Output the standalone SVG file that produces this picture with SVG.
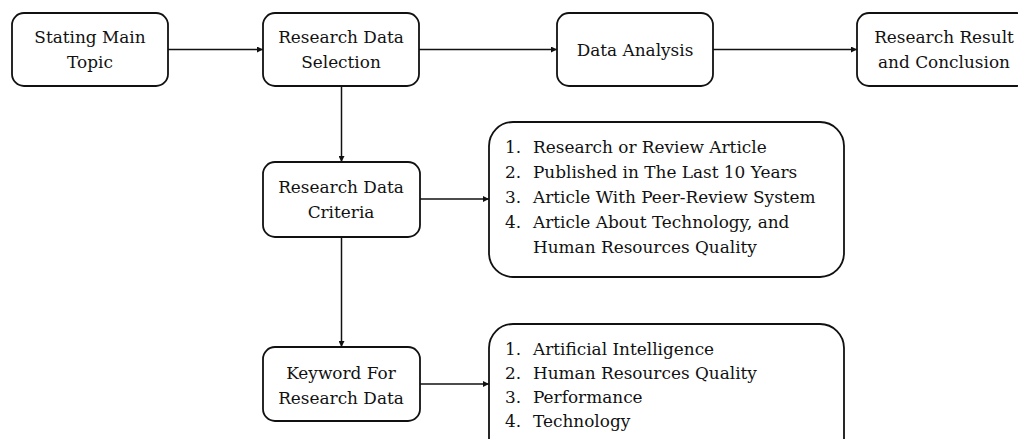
<svg xmlns="http://www.w3.org/2000/svg" width="1018" height="439" viewBox="0 0 1018 439">
<style>
.box{fill:#fff;stroke:#111;stroke-width:1.8}
.t{font-family:"DejaVu Serif","Liberation Serif",serif;font-size:16.9px;fill:#111}
.c{text-anchor:middle}
.ln{fill:none;stroke:#111;stroke-width:1.5}
</style>
<defs>
<marker id="ah" viewBox="0 0 10 10" refX="10" refY="5" markerWidth="6" markerHeight="6" markerUnits="userSpaceOnUse" orient="auto">
<path d="M0,0 L10,5 L0,10 z" fill="#111"/>
</marker>
</defs>
<rect width="1018" height="439" fill="#fff"/>
<g id="connectors">
<line class="ln" x1="168" y1="49.5" x2="263" y2="49.5" marker-end="url(#ah)"/>
<line class="ln" x1="419" y1="49.5" x2="557" y2="49.5" marker-end="url(#ah)"/>
<line class="ln" x1="713" y1="49.5" x2="857" y2="49.5" marker-end="url(#ah)"/>
<line class="ln" x1="341.5" y1="86" x2="341.5" y2="162" marker-end="url(#ah)"/>
<line class="ln" x1="341.5" y1="237" x2="341.5" y2="347" marker-end="url(#ah)"/>
<line class="ln" x1="420" y1="199" x2="489" y2="199" marker-end="url(#ah)"/>
<line class="ln" x1="420" y1="384" x2="489" y2="384" marker-end="url(#ah)"/>
</g>
<g id="stating">
<rect class="box" x="12" y="13" width="156" height="73" rx="12"/>
<text class="t c" x="90" y="43">Stating Main</text>
<text class="t c" x="90" y="68">Topic</text>
</g>
<g id="selection">
<rect class="box" x="263" y="13" width="156" height="73" rx="12"/>
<text class="t c" x="341" y="43">Research Data</text>
<text class="t c" x="341" y="68">Selection</text>
</g>
<g id="analysis">
<rect class="box" x="557" y="13" width="156" height="73" rx="12"/>
<text class="t c" x="635" y="56">Data Analysis</text>
</g>
<g id="result">
<rect class="box" x="857" y="13" width="172" height="73" rx="12"/>
<text class="t c" x="944" y="43">Research Result</text>
<text class="t c" x="944" y="68">and Conclusion</text>
</g>
<g id="criteria">
<rect class="box" x="263" y="162" width="157" height="75" rx="12"/>
<text class="t c" x="341" y="193">Research Data</text>
<text class="t c" x="341" y="218">Criteria</text>
</g>
<g id="criteria-list">
<rect class="box" x="489" y="122" width="355" height="155" rx="24"/>
<text class="t" x="505" y="153">1.</text><text class="t" x="533" y="153">Research or Review Article</text>
<text class="t" x="505" y="178">2.</text><text class="t" x="533" y="178">Published in The Last 10 Years</text>
<text class="t" x="505" y="203">3.</text><text class="t" x="533" y="203">Article With Peer-Review System</text>
<text class="t" x="505" y="228">4.</text><text class="t" x="533" y="228">Article About Technology, and</text>
<text class="t" x="533" y="253">Human Resources Quality</text>
</g>
<g id="keyword">
<rect class="box" x="263" y="347" width="157" height="74" rx="12"/>
<text class="t c" x="341" y="379">Keyword For</text>
<text class="t c" x="341" y="404">Research Data</text>
</g>
<g id="keyword-list">
<rect class="box" x="489" y="324" width="355" height="140" rx="24"/>
<text class="t" x="505" y="355">1.</text><text class="t" x="533" y="355">Artificial Intelligence</text>
<text class="t" x="505" y="379">2.</text><text class="t" x="533" y="379">Human Resources Quality</text>
<text class="t" x="505" y="403">3.</text><text class="t" x="533" y="403">Performance</text>
<text class="t" x="505" y="427">4.</text><text class="t" x="533" y="427">Technology</text>
</g>
</svg>
